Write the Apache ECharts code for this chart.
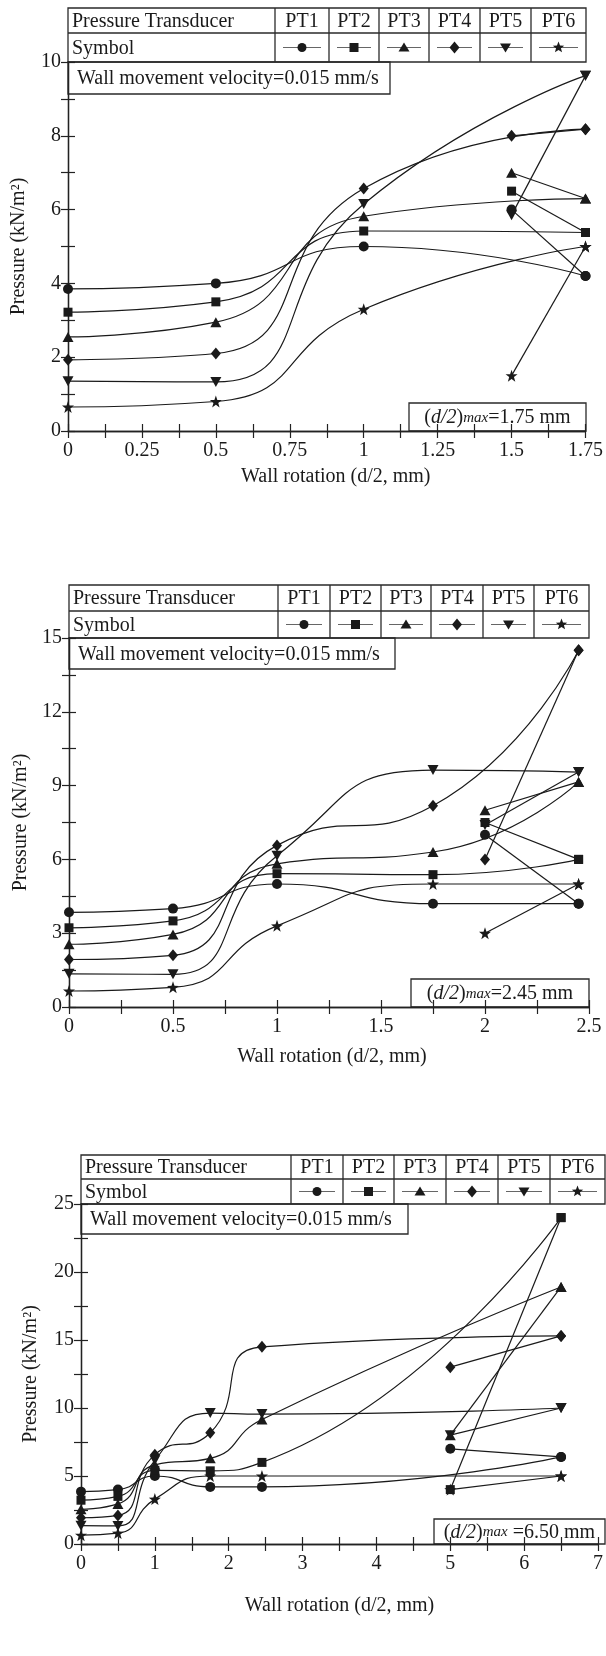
<!DOCTYPE html>
<html>
<head>
<meta charset="utf-8">
<script src="https://cdn.jsdelivr.net/npm/echarts@6/dist/echarts.min.js"></script>
<style>
  html, body { margin: 0; padding: 0; background: #fff; }
  #chart { width: 606px; height: 1656px; }
</style>
</head>
<body>
<div id="chart"></div>
<script>
// ---- data ----
const transducers = ['PT1', 'PT2', 'PT3', 'PT4', 'PT5', 'PT6'];

// panel A : (d/2)max = 1.75 mm
const loadXA = [0, 0.5, 1, 1.75];
const loadYA = [
  [3.85, 4.0, 5.0, 4.2],
  [3.22, 3.5, 5.42, 5.38],
  [2.55, 2.95, 5.82, 6.3],
  [1.93, 2.1, 6.57, 8.18],
  [1.35, 1.33, 6.15, 9.63],
  [0.65, 0.8, 3.3, 5.0]
];
const unloadXA = [1.75, 1.5];
const unloadYA = [[4.2, 6.0], [5.38, 6.5], [6.3, 7.0], [8.18, 8.0], [9.63, 5.85], [5.0, 1.5]];

// panel B : (d/2)max = 2.45 mm
const loadXB = [0, 0.5, 1, 1.75, 2.45];
const loadYB = [
  [3.85, 4.0, 5.0, 4.2, 4.2],
  [3.22, 3.5, 5.42, 5.38, 6.0],
  [2.55, 2.95, 5.82, 6.3, 9.15],
  [1.93, 2.1, 6.57, 8.18, 14.5],
  [1.35, 1.33, 6.15, 9.63, 9.55],
  [0.65, 0.8, 3.3, 5.0, 5.0]
];
const unloadXB = [2.45, 2];
const unloadYB = [[4.2, 7.0], [6.0, 7.5], [9.15, 8.0], [14.5, 6.0], [9.55, 7.4], [5.0, 3.0]];

// panel C : (d/2)max = 6.50 mm
const loadXC = [0, 0.5, 1, 1.75, 2.45, 6.5];
const loadYC = [
  [3.85, 4.0, 5.0, 4.2, 4.2, 6.4],
  [3.22, 3.5, 5.42, 5.38, 6.0, 24.0],
  [2.55, 2.95, 5.82, 6.3, 9.15, 18.9],
  [1.93, 2.1, 6.57, 8.18, 14.5, 15.3],
  [1.35, 1.33, 6.15, 9.63, 9.55, 10.0],
  [0.65, 0.8, 3.3, 5.0, 5.0, 5.0]
];
const unloadXC = [6.5, 5];
const unloadYC = [[6.4, 7.0], [24.0, 4.0], [18.9, 8.0], [15.3, 13.0], [10.0, 8.0], [5.0, 4.0]];

const FONT = "'Liberation Serif', 'Times New Roman', serif";
const INK = '#1a1a1a';
const STAR = 'path://M0,-10L2.35,-3.24L9.51,-3.09L3.8,1.24L5.88,8.09L0,4L-5.88,8.09L-3.8,1.24L-9.51,-3.09L-2.35,-3.24Z';

const symbols = [
  { symbol: 'circle', size: 10, rotate: 0 },
  { symbol: 'rect', size: 9, rotate: 0 },
  { symbol: 'triangle', size: [11, 10], rotate: 0 },
  { symbol: 'diamond', size: [10, 12], rotate: 0 },
  { symbol: 'triangle', size: [11, 10], rotate: 180 },
  { symbol: STAR, size: 12, rotate: 0 }
];

const panels = [
  { left: 68, top: 62, width: 518, height: 369, xMax: 1.75, xInt: 0.25, yMax: 10, yInt: 2,
    tableTop: 8, tableMid: 33, cols: [68, 275, 329, 379, 429, 480, 531, 586],
    wallRight: 390, wallBottom: 94, dmaxLeft: 409, dmaxTop: 403, dmax: '=1.75 mm',
    xNameGap: 36, xNameShift: 18, yNameGap: 39,
    loadX: loadXA, loadY: loadYA, unloadX: unloadXA, unloadY: unloadYA },
  { left: 69, top: 638, width: 520, height: 369, xMax: 2.5, xInt: 0.5, yMax: 15, yInt: 3,
    tableTop: 585, tableMid: 611, cols: [69, 278, 330, 381, 431, 483, 534, 589],
    wallRight: 395, wallBottom: 669, dmaxLeft: 411, dmaxTop: 979, dmax: '=2.45 mm',
    xNameGap: 40, xNameShift: 6, yNameGap: 38,
    loadX: loadXB, loadY: loadYB, unloadX: unloadXB, unloadY: unloadYB },
  { left: 81, top: 1204, width: 524, height: 340, xMax: 7, xInt: 1, yMax: 25, yInt: 5,
    tableTop: 1155, tableMid: 1179, cols: [81, 291, 343, 394, 446, 498, 550, 605],
    wallRight: 408, wallBottom: 1234, dmaxLeft: 434, dmaxTop: 1519, dmax: ' =6.50 mm',
    xNameGap: 52, xNameShift: 0, yNameGap: 40,
    loadX: loadXC, loadY: loadYC, unloadX: unloadXC, unloadY: unloadYC }
];

function starPoints(cx, cy, R, r) {
  const pts = [];
  for (let i = 0; i < 10; i++) {
    const a = -Math.PI / 2 + i * Math.PI / 5;
    const rad = i % 2 ? r : R;
    pts.push([cx + rad * Math.cos(a), cy + rad * Math.sin(a)]);
  }
  return pts;
}

// little marker glyphs for the table
function icon(k, cx, cy) {
  const style = { fill: INK };
  switch (k) {
    case 0: return { type: 'circle', shape: { cx: cx, cy: cy, r: 4.5 }, style };
    case 1: return { type: 'rect', shape: { x: cx - 4.5, y: cy - 4.5, width: 9, height: 9 }, style };
    case 2: return { type: 'polygon', shape: { points: [[cx, cy - 5], [cx + 5.5, cy + 4], [cx - 5.5, cy + 4]] }, style };
    case 3: return { type: 'polygon', shape: { points: [[cx, cy - 6], [cx + 5, cy], [cx, cy + 6], [cx - 5, cy]] }, style };
    case 4: return { type: 'polygon', shape: { points: [[cx - 5.5, cy - 4], [cx + 5.5, cy - 4], [cx, cy + 5]] }, style };
    default: return { type: 'polygon', shape: { points: starPoints(cx, cy, 6, 2.6) }, style };
  }
}

function panelGraphics(p) {
  const g = [];
  const line = { stroke: '#2a2a2a', lineWidth: 1.3 };
  const L = p.cols[0], R = p.cols[7], T = p.tableTop, M = p.tableMid, B = p.top;
  g.push({ type: 'rect', shape: { x: L, y: T, width: R - L, height: B - T }, style: Object.assign({ fill: 'none' }, line) });
  g.push({ type: 'line', shape: { x1: L, y1: M, x2: R, y2: M }, style: line });
  for (let c = 1; c < 7; c++) {
    g.push({ type: 'line', shape: { x1: p.cols[c], y1: T, x2: p.cols[c], y2: B }, style: line });
  }
  const txt = { fontFamily: FONT, fontSize: 20, fill: INK, verticalAlign: 'middle' };
  g.push({ type: 'text', x: L + 4, y: (T + M) / 2 + 1, style: Object.assign({ text: 'Pressure Transducer', align: 'left' }, txt) });
  g.push({ type: 'text', x: L + 4, y: (M + B) / 2 + 1, style: Object.assign({ text: 'Symbol', align: 'left' }, txt) });
  transducers.forEach((name, k) => {
    const cl = p.cols[k + 1], cr = p.cols[k + 2], cx = (cl + cr) / 2, cy = (M + B) / 2;
    g.push({ type: 'text', x: cx, y: (T + M) / 2 + 1, style: Object.assign({ text: name, align: 'center' }, txt) });
    g.push({ type: 'line', shape: { x1: cl + 8, y1: cy, x2: cr - 8, y2: cy }, style: { stroke: '#666', lineWidth: 1 } });
    g.push(icon(k, cx, cy));
  });
  // velocity box
  g.push({ type: 'rect', shape: { x: p.left, y: p.top, width: p.wallRight - p.left, height: p.wallBottom - p.top },
    style: Object.assign({ fill: 'none' }, line) });
  g.push({ type: 'text', x: p.left + 9, y: (p.top + p.wallBottom) / 2 + 1,
    style: Object.assign({ text: 'Wall movement velocity=0.015 mm/s', align: 'left' }, txt) });
  // (d/2)max box
  const bot = p.top + p.height, right = p.left + p.width;
  g.push({ type: 'rect', shape: { x: p.dmaxLeft, y: p.dmaxTop, width: right - p.dmaxLeft, height: bot - p.dmaxTop },
    style: Object.assign({ fill: 'none' }, line) });
  g.push({ type: 'text', x: (p.dmaxLeft + right) / 2, y: (p.dmaxTop + bot) / 2 + 1,
    style: {
      text: '{n|(}{i|d/2}{n|)}{s|max}{n|' + p.dmax + '}',
      align: 'center', verticalAlign: 'middle',
      rich: {
        n: { fontFamily: FONT, fontSize: 20, fill: INK, lineHeight: 20 },
        i: { fontFamily: FONT, fontSize: 20, fill: INK, fontStyle: 'italic', lineHeight: 20 },
        s: { fontFamily: FONT, fontSize: 15, fill: INK, fontStyle: 'italic', lineHeight: 9 }
      }
    } });
  return g;
}

const axisLineStyle = { color: '#222', width: 1.3 };
const grids = [], xAxes = [], yAxes = [], series = [];
let graphics = [];

panels.forEach((p, gi) => {
  grids.push({ left: p.left, top: p.top, width: p.width, height: p.height });
  const common = {
    gridIndex: gi, type: 'value', min: 0,
    axisLine: { lineStyle: axisLineStyle },
    axisTick: { inside: true, length: 7, lineStyle: { color: '#222', width: 1.2 } },
    minorTick: { show: true, splitNumber: 2, length: 7, lineStyle: { color: '#222', width: 1.2 } },
    splitLine: { show: false }
  };
  xAxes.push(Object.assign({}, common, {
    max: p.xMax, interval: p.xInt, position: 'bottom',
    axisLabel: { fontFamily: FONT, fontSize: 20, color: INK, margin: 10 },
    name: 'Wall rotation (d/2, mm)', nameLocation: 'middle', nameGap: p.xNameGap,
    nameTextStyle: { fontFamily: FONT, fontSize: 20, color: INK, padding: [0, 0, 0, p.xNameShift] }
  }));
  xAxes.push(Object.assign({}, common, { max: p.xMax, interval: p.xInt, position: 'top', axisLabel: { show: false } }));
  yAxes.push(Object.assign({}, common, {
    max: p.yMax, interval: p.yInt, position: 'left',
    axisLabel: { fontFamily: FONT, fontSize: 20, color: INK, margin: 7 },
    name: 'Pressure (kN/m²)', nameLocation: 'middle', nameGap: p.yNameGap, nameRotate: 90,
    nameTextStyle: { fontFamily: FONT, fontSize: 20, color: INK }
  }));
  yAxes.push(Object.assign({}, common, { max: p.yMax, interval: p.yInt, position: 'right', axisLabel: { show: false } }));

  transducers.forEach((name, k) => {
    const sym = symbols[k];
    const base = {
      type: 'line', name: name, xAxisIndex: gi * 2, yAxisIndex: gi * 2,
      symbol: sym.symbol, symbolSize: sym.size, symbolRotate: sym.rotate, showSymbol: true,
      lineStyle: { color: INK, width: 1.2 }, itemStyle: { color: INK },
      emphasis: { disabled: true }, animation: false
    };
    series.push(Object.assign({}, base, {
      smooth: 0.55,
      data: p.loadX.map((x, j) => [x, p.loadY[k][j]])
    }));
    series.push(Object.assign({}, base, {
      smooth: false,
      data: p.unloadX.map((x, j) => [x, p.unloadY[k][j]])
    }));
  });
  graphics = graphics.concat(panelGraphics(p));
});

const chart = echarts.init(document.getElementById('chart'));
chart.setOption({
  backgroundColor: '#fff',
  animation: false,
  grid: grids,
  xAxis: xAxes,
  yAxis: yAxes,
  series: series,
  graphic: graphics
});
</script>
</body>
</html>
